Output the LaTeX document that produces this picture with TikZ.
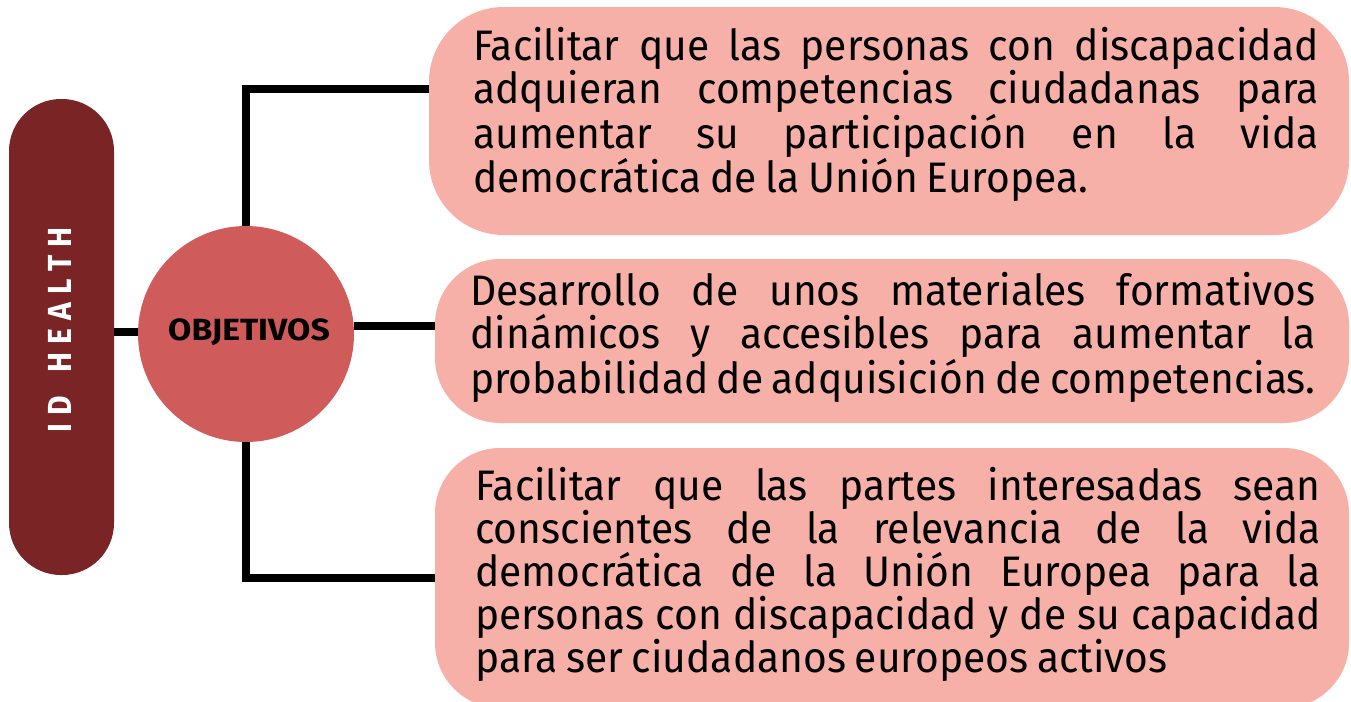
\documentclass[tikz,border=0pt]{standalone}
\usepackage{fontspec}
\newfontfamily\bodyf{Fira Sans}[FakeStretch=0.955, WordSpace=0.8]
\newfontfamily\headf{Fira Sans}[FakeStretch=0.9]
\newfontfamily\objf{Fira Sans}[FakeStretch=1.1]
\definecolor{pillc}{HTML}{7B2426}
\definecolor{circc}{HTML}{D05B5B}
\definecolor{boxc}{HTML}{F6B0A8}
\tikzset{
  conn/.style={line width=6pt, draw=black},
  goalbox/.style={fill=boxc, draw=none, rectangle, inner sep=0pt},
  goaltext/.style={anchor=north west, inner sep=0pt, text width=634pt, align=justify,
    font=\bodyf\fontsize{32pt}{32.3pt}\selectfont},
}
\begin{document}
\begin{tikzpicture}[x=0.75pt,y=-0.75pt]
\useasboundingbox (0,0) rectangle (1351,701);
\clip (0,0) rectangle (1351,701);
% left pill
\node[fill=pillc, rectangle, rounded corners=39pt, minimum width=78.75pt, minimum height=357pt, inner sep=0pt] (pill) at (61.5,337) {};
\node[rotate=90, text=white, font=\headf\bfseries\fontsize{25pt}{25pt}\selectfont, inner sep=0pt] (pilltext) at (60,330)
  {I\kern6pt D\hspace{18pt}H\kern6pt E\kern6pt A\kern6pt L\kern6pt T\kern6pt H};
% circle
\node[circle, fill=circc, minimum size=162pt, inner sep=0pt] (o) at (246,334) {};
\node[font=\objf\bfseries\fontsize{23pt}{23pt}\selectfont, inner sep=0pt] (otext) at (249,332) {OBJETIVOS};
% boxes
\node[goalbox, rounded corners=56pt, minimum width=690pt, minimum height=171pt] (b1) at (889,121) {};
\node[goalbox, rounded corners=49pt, minimum width=685.5pt, minimum height=123pt] (b2) at (892,341) {};
\node[goalbox, rounded corners=49pt, minimum width=685.5pt, minimum height=195pt] (b3) at (892,578) {};
% texts
\node[goaltext] (t1) at (473,27) {Facilitar que las personas con discapacidad\linebreak
adquieran competencias ciudadanas para\linebreak
aumentar su participación en la vida\linebreak
democrática de la Unión Europea.};
\node[goaltext] (t2) at (470,272) {Desarrollo de unos materiales formativos\linebreak
dinámicos y accesibles para aumentar la\linebreak
probabilidad de adquisición de competencias.};
\node[goaltext] (t3) at (475,467) {Facilitar que las partes interesadas sean\linebreak
conscientes de la relevancia de la vida\linebreak
democrática de la Unión Europea para la\linebreak
personas con discapacidad y de su capacidad\linebreak
para ser ciudadanos europeos activos};
% connectors
\draw[conn] (pill.east |- 0,332) -- (o.west |- 0,332);
\draw[conn] (o.north) |- (b1.west |- 0,89);
\draw[conn] (o.east |- 0,326) -- (b2.west |- 0,326);
\draw[conn] (o.south) |- (b3.west);
\end{tikzpicture}
\end{document}
